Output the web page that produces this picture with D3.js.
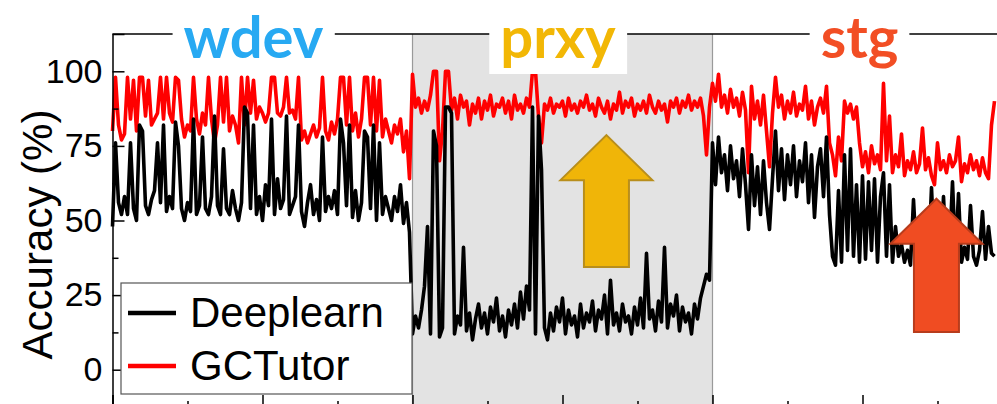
<!DOCTYPE html>
<html>
<head>
<meta charset="utf-8">
<script src="https://cdn.jsdelivr.net/npm/d3@7"></script>
<style>
  body { margin: 0; background: #fff; }
  svg { display: block; }
</style>
</head>
<body>
<div id="chart"></div>
<script>
var width = 997
var height = 404

// accuracy traces, one value every 0.02 x units
var wdevGC = [80,98,82,77,79,98,84,97,80,98, 98,85,97,82,84,86,98,84,98,86,
  83,98,97,84,78,82,80,98,84,79, 86,82,98,84,76,82,98,83,98,80,
  85,82,76,98,82,98,86,97,84,88, 86,83,86,98,98,86,85,88,98,86,
  87,84,98,77,80,76,79,82,78,81, 98,80,77,83,79,84,98,98,82,98,
  80,86,78,84,98,98,82,98,80,97, 78,84,80,76,82,79,84,73,80,64]
var wdevDL = [48,76,56,52,58,52,76,54,50,82, 80,55,52,57,60,76,56,82,53,58,
  54,83,75,54,50,56,53,84,52,55, 78,54,52,58,85,55,52,74,54,52,
  60,54,50,56,88,86,54,82,52,58, 50,62,55,84,52,64,54,57,85,52,
  55,58,82,53,48,56,62,52,57,50, 78,53,58,54,60,52,84,76,55,82,
  51,60,50,56,80,78,54,82,50,76, 52,58,54,50,58,53,62,49,56,46]
var prxyGC = [99,88,91,86,90,87,92,100,100,70, 80,100,100,87,91,84,92,88,90,82,
  89,86,91,84,90,87,92,85,89,88, 91,86,90,84,92,87,89,86,91,88,
  100,100,85,76,89,87,91,86,89,88, 90,85,91,87,89,86,90,88,92,87,
  89,85,91,88,86,90,84,89,87,93, 86,90,88,91,85,89,87,90,86,92,
  88,86,90,87,89,83,90,88,91,86, 90,88,92,87,90,88,91,85,72,88]
var prxyDL = [12,18,14,20,28,48,12,80,75,11, 14,88,88,86,12,18,15,41,13,19,
  10,17,22,14,19,12,21,16,24,13, 18,11,20,15,22,14,26,17,28,20,
  88,12,85,67,14,10,19,13,21,16, 24,12,20,15,18,11,22,14,19,16,
  23,13,20,17,25,12,30,15,19,13, 22,16,18,12,21,15,24,14,39,17,
  20,13,23,16,41,14,22,18,25,13, 21,16,19,12,22,17,24,28,32,30]
var stgGC = [96,90,99,88,92,86,94,88,91,85, 93,87,66,95,84,90,82,92,80,68,
  86,98,88,92,84,90,86,93,85,89, 87,95,84,90,82,88,91,86,95,76,
  72,65,78,70,90,86,89,84,88,76, 68,73,66,75,69,72,67,96,70,85,
  66,72,68,79,65,70,67,73,66,69, 81,67,71,65,62,76,67,70,66,72,
  68,70,78,63,69,66,72,67,70,65, 71,66,64,82,90]
var stgDL = [76,62,78,66,72,60,75,64,70,58, 74,62,47,72,55,68,52,70,56,47,
  64,80,60,74,57,72,62,75,58,70, 63,76,56,72,51,68,74,58,78,52,
  38,35,60,36,72,40,74,38,62,36, 65,37,63,40,64,36,58,66,38,62,
  36,48,38,42,36,40,35,57,38,41, 36,39,37,61,38,42,36,58,37,40,
  63,38,59,36,41,37,55,38,35,40, 53,37,48,39,38]

var step = 0.02
var yTicks = [0, 25, 50, 75, 100]
var yMinor = [-12.5, 12.5, 37.5, 62.5, 87.5]
var xTicks = [0, 1, 2, 3, 4, 5]
var xMinor = [0.5, 1.5, 2.5, 3.5, 4.5, 5.5]

var traces = ["wdev", "prxy", "stg"]
var traceColors = ["#27a9f2", "#f2b705", "#f24e24"]
var traceLabelX = [0.94, 2.97, 4.98]
var shaded = [2, 4]

var legendNames = ["Deeplearn", "GCTutor"]
var lineColors = ["#000000", "#ff0000"]

// arrow annotations: tip x, tip y (accuracy), tail y
var arrowX = [3.293, 5.493]
var arrowTip = [78.6, 57.3]
var arrowTail = [34.4, 12.6]
var arrowFill = ["#f0b508", "#f04c22"]
var arrowStroke = ["#b88e1c", "#b83c1c"]

var gcSeries = wdevGC.concat(prxyGC, stgGC)
var dlSeries = wdevDL.concat(prxyDL, stgDL)

var svg = d3.select("#chart").append("svg").attr("width", width).attr("height", height)

var x = d3.scaleLinear().domain([0, 6]).range([112.5, 1012.5])
var y = d3.scaleLinear().domain([-12.5, 112.5]).range([407, 34])

// shaded prxy region
svg.append("rect")
    .attr("x", x(shaded[0])).attr("y", y(112.5))
    .attr("width", x(shaded[1]) - x(shaded[0])).attr("height", y(-12.5) - y(112.5))
    .attr("fill", "#e3e3e3")
shaded.forEach(function(s) {
    svg.append("line").attr("x1", x(s)).attr("x2", x(s)).attr("y1", y(112.5)).attr("y2", y(-12.5))
        .attr("stroke", "#9a9a9a").attr("stroke-width", 1.2)
})

var line = d3.line()
    .x(function(d, i) { return x(i * step) })
    .y(function(d) { return y(d) })

svg.append("path").datum(gcSeries).attr("d", line)
    .attr("fill", "none").attr("stroke", lineColors[1]).attr("stroke-width", 3.6).attr("stroke-linejoin", "round")
svg.append("path").datum(dlSeries).attr("d", line)
    .attr("fill", "none").attr("stroke", lineColors[0]).attr("stroke-width", 3.6).attr("stroke-linejoin", "round")

// axes
var yAxis = svg.append("g").attr("transform", "translate(" + x(0) + ",0)")
    .call(d3.axisLeft(y).tickValues(yTicks).tickSize(-12).tickPadding(10).tickFormat(d3.format("d")))
yAxis.select(".domain").attr("stroke-width", 1.5)
yAxis.selectAll(".tick line").attr("stroke-width", 1.5)
yAxis.selectAll("text").style("font-family", "Liberation Sans, Arial, sans-serif").style("font-size", "34px").attr("fill", "#000")
svg.append("g").attr("transform", "translate(" + x(0) + ",0)")
    .call(d3.axisLeft(y).tickValues(yMinor).tickSize(-6).tickFormat(""))
    .call(function(g) { g.select(".domain").remove() })
    .selectAll(".tick line").attr("stroke-width", 1.5)

var xAxis = svg.append("g").attr("transform", "translate(0," + y(-12.5) + ")")
    .call(d3.axisBottom(x).tickValues(xTicks).tickSize(-12).tickFormat(""))
xAxis.selectAll("line").attr("stroke-width", 1.5)
xAxis.select(".domain").attr("stroke-width", 1.5)
svg.append("g").attr("transform", "translate(0," + y(-12.5) + ")")
    .call(d3.axisBottom(x).tickValues(xMinor).tickSize(-6).tickFormat(""))
    .call(function(g) { g.select(".domain").remove() })
    .selectAll(".tick line").attr("stroke-width", 1.5)

// top frame line
svg.append("line").attr("x1", x(0)).attr("x2", width).attr("y1", y(112.5)).attr("y2", y(112.5))
    .attr("stroke", "#000").attr("stroke-width", 1.5)

svg.append("text")
    .attr("transform", "translate(52," + ((y(-12.5) + y(112.5)) / 2 + 14) + ") rotate(-90)")
    .attr("text-anchor", "middle")
    .style("font-family", "Liberation Sans, Arial, sans-serif").style("font-size", "42px")
    .attr("textLength", 250).attr("lengthAdjust", "spacingAndGlyphs")
    .text("Accuracy (%)")

// trace labels with white boxes breaking the frame
traces.forEach(function(t, i) {
    var g = svg.append("g")
    var bg = g.append("rect").attr("fill", "#fff")
    var txt = g.append("text").attr("x", x(traceLabelX[i])).attr("y", 57.5)
        .attr("text-anchor", "middle").attr("fill", traceColors[i])
        .style("font-family", "Lato, 'Open Sans', sans-serif").style("font-weight", "bold").style("font-size", "58px")
        .text(t)
    var bb = txt.node().getBBox()
    bg.attr("x", bb.x - 11).attr("y", 0).attr("width", bb.width + 22).attr("height", 74)
})

// arrows
arrowX.forEach(function(ax, i) {
    var cx = x(ax), tip = y(arrowTip[i]), tail = y(arrowTail[i])
    var head = 46, shaft = 22.5, hl = 45
    var pts = [[cx, tip], [cx + head, tip + hl], [cx + shaft, tip + hl], [cx + shaft, tail],
        [cx - shaft, tail], [cx - shaft, tip + hl], [cx - head, tip + hl]]
    svg.append("path").attr("d", "M" + pts.join("L") + "Z")
        .attr("fill", arrowFill[i]).attr("stroke", arrowStroke[i]).attr("stroke-width", 2)
})

// legend
var legend = svg.append("g")
legend.append("rect").attr("x", 121).attr("y", 283).attr("width", 291).attr("height", 111)
    .attr("fill", "#fff").attr("stroke", "#555").attr("stroke-width", 1.2)
legendNames.forEach(function(n, i) {
    var ly = 313 + i * 53
    legend.append("line").attr("x1", 128).attr("x2", 176).attr("y1", ly).attr("y2", ly)
        .attr("stroke", lineColors[i]).attr("stroke-width", 4.5)
    legend.append("text").attr("x", 190).attr("y", ly + 14)
        .style("font-family", "Liberation Sans, Arial, sans-serif").style("font-size", "42px")
        .text(n)
})
</script>
</body>
</html>
